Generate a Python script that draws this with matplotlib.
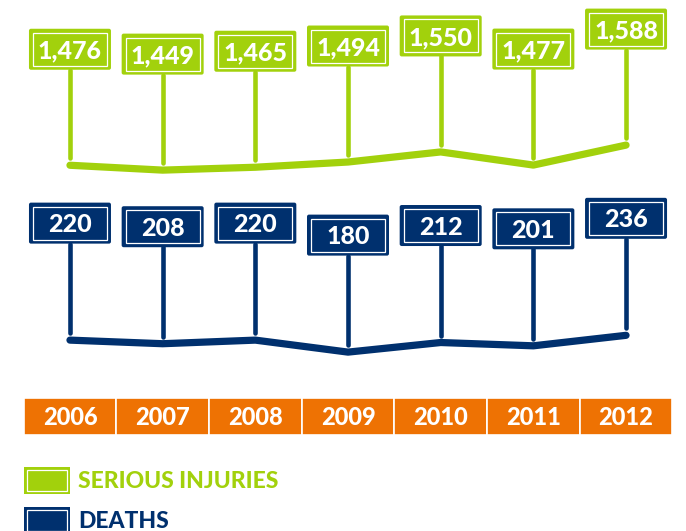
import matplotlib.pyplot as plt
from matplotlib.patches import Rectangle, FancyBboxPatch
from matplotlib.transforms import ScaledTranslation

years = ["2006", "2007", "2008", "2009", "2010", "2011", "2012"]
injuries = [1476, 1449, 1465, 1494, 1550, 1477, 1588]
deaths = [220, 208, 220, 180, 212, 201, 236]

GREEN = "#A2D10C"
NAVY = "#00306E"
ORANGE = "#EE7203"

plt.rcParams['font.family'] = ['Lato', 'DejaVu Sans']

W, H = 686, 531
fig = plt.figure(figsize=(W / 100, H / 100), dpi=100)
XLIM = (-0.755, 6.647)

# sign geometry, in pixels relative to the point on the line
BOX_W, BOX_H = 82, 41


def px_axes(top, bottom):
    ax = fig.add_axes([0, 1 - bottom / H, 1, (bottom - top) / H])
    ax.set_axis_off()
    ax.patch.set_alpha(0)
    return ax


def draw_signs(ax, values, colour, offset, ylim):
    x = list(range(len(values)))
    ax.plot(x, values, color=colour, lw=5.2, solid_capstyle='round',
            solid_joinstyle='round', zorder=1)
    for i, v in enumerate(values):
        tr = ScaledTranslation(i, v, ax.transData)
        ax.plot([0, 0], [7, offset - BOX_H / 2], transform=tr, color=colour,
                lw=3.3, solid_capstyle='round', clip_on=False, zorder=2)
        ax.add_patch(FancyBboxPatch((-BOX_W / 2, offset - BOX_H / 2), BOX_W, BOX_H,
                                    boxstyle="round,pad=0,rounding_size=2",
                                    fc=colour, ec='none', transform=tr,
                                    clip_on=False, zorder=3))
        ax.add_patch(Rectangle((-BOX_W / 2 + 4, offset - BOX_H / 2 + 4), BOX_W - 8, BOX_H - 8,
                               fill=False, ec='white', lw=0.9, transform=tr,
                               clip_on=False, zorder=4))
        ax.text(0, offset - 9, f"{v:,}", transform=tr, ha='center', va='baseline',
                color='white', fontsize=18, fontweight='black', zorder=5)
    ax.set_xlim(XLIM)
    ax.set_ylim(ylim)


ax_inj = px_axes(0, 200)
draw_signs(ax_inj, injuries, GREEN, 116, (1283, 2394))

ax_dth = px_axes(180, 380)
draw_signs(ax_dth, deaths, NAVY, 117, (87, 754))

# year strip
ax_yr = px_axes(398, 435)
ax_yr.bar(range(len(years)), [1] * len(years), width=1, color=ORANGE,
          edgecolor='white', lw=1.2)
for i, yr in enumerate(years):
    ax_yr.text(i, 0.47, yr, ha='center', va='center', color='white',
               fontsize=17, fontweight='black')
ax_yr.set_xlim(XLIM)
ax_yr.set_ylim(0, 1)

# legend drawn in pixel space
lg = fig.add_axes([0, 0, 1, 1])
lg.set_axis_off()
lg.patch.set_alpha(0)
lg.set_xlim(0, W)
lg.set_ylim(H, 0)
for top, colour, label in [(467, GREEN, "SERIOUS INJURIES"), (507, NAVY, "DEATHS")]:
    lg.add_patch(Rectangle((24, top), 46, 27, fc=colour, ec='none'))
    lg.add_patch(Rectangle((27, top + 3), 40, 21, fill=False, ec='white', lw=0.9))
    lg.text(78, top + 14, label, ha='left', va='center', color=colour,
            fontsize=16.5, fontweight='black')

fig.savefig("out.png", dpi=100)
